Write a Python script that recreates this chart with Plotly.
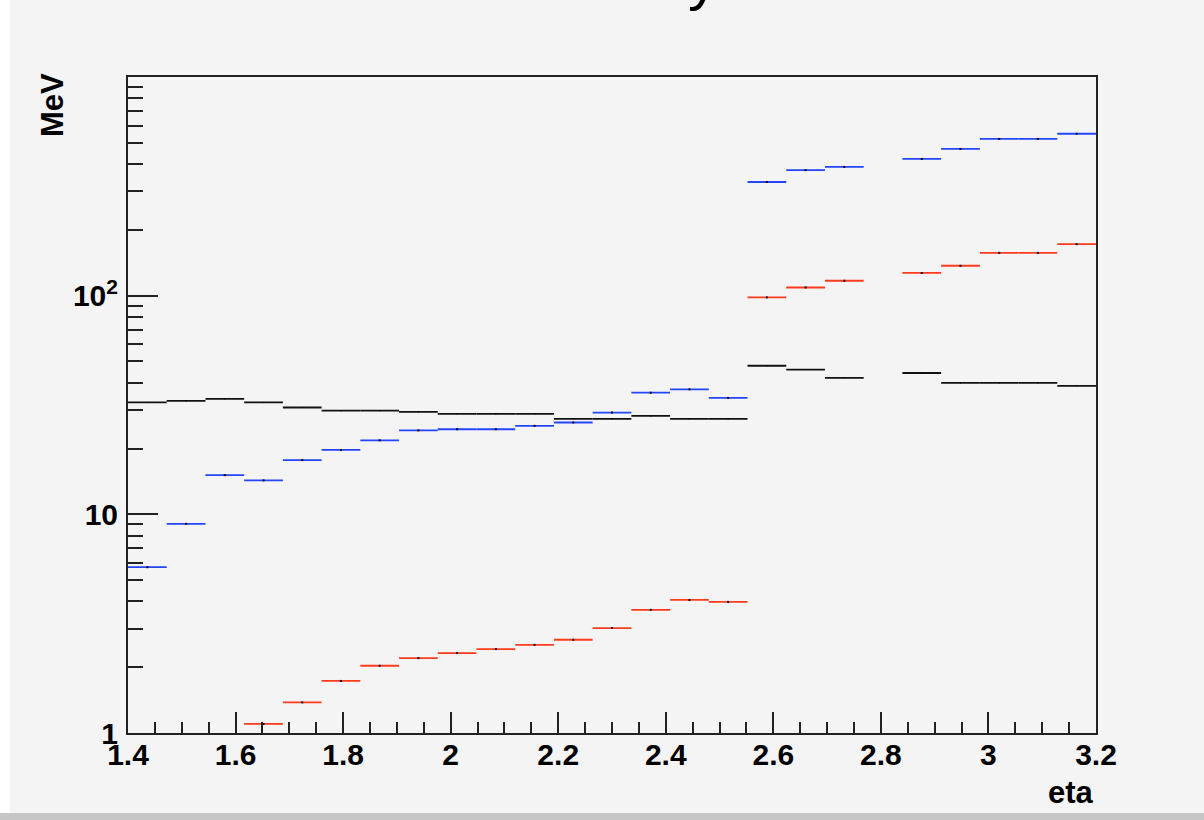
import plotly.graph_objects as go

# ---- data -------------------------------------------------------------
eta_edges = [1.400, 1.472, 1.544, 1.616, 1.688, 1.760, 1.832, 1.904, 1.976,
             2.048, 2.120, 2.192, 2.264, 2.336, 2.408, 2.480, 2.552, 2.624,
             2.696, 2.768, 2.840, 2.912, 2.984, 3.056, 3.128, 3.200]

black_vals = [32.5, 33.0, 33.7, 32.5, 30.8, 29.8, 29.8, 29.4, 28.8, 28.8,
              28.8, 27.3, 27.3, 28.2, 27.3, 27.3, 47.8, 45.9, 42.1, None,
              44.3, 39.9, 39.9, 39.9, 38.7]

blue_vals = [5.73, 9.05, 15.1, 14.3, 17.7, 19.7, 21.8, 24.2, 24.5, 24.5,
             25.4, 26.3, 29.2, 36.0, 37.3, 34.1, 331, 375, 388, None,
             422, 469, 521, 521, 550]

red_vals = [None, None, None, 1.10, 1.38, 1.73, 2.03, 2.20, 2.32, 2.42,
            2.53, 2.67, 3.02, 3.66, 4.06, 3.98, 98.2, 109, 117, None,
            127, 137, 157, 157, 172]

x_title = "eta"
y_title = "MeV"
y_tickvals = [1, 10, 100]
y_ticktext = ["1", "10", "10<sup>2</sup>"]
y_minor = [2, 3, 4, 5, 6, 7, 8, 9, 20, 30, 40, 50, 60, 70, 80, 90,
           200, 300, 400, 500, 600, 700, 800, 900]

# ---- derived bin geometry --------------------------------------------
centers = [(a + b) / 2 for a, b in zip(eta_edges[:-1], eta_edges[1:])]
halfw = [(b - a) / 2 for a, b in zip(eta_edges[:-1], eta_edges[1:])]

fig = go.Figure()


def add_hist(vals, color, dot):
    fig.add_trace(go.Scatter(
        x=centers, y=vals, mode="markers",
        marker=dict(size=2 if dot else 1, color="black", symbol="square"),
        error_x=dict(type="data", array=halfw, symmetric=True,
                     color=color, thickness=1.8, width=0),
        showlegend=False, hoverinfo="x+y"))


add_hist(black_vals, "#111111", False)
add_hist(blue_vals, "#2246ff", True)
add_hist(red_vals, "#ff3b1c", True)

BG = "#f4f4f4"
L, R, T, B = 128, 108, 77, 87
W, H = 1204, 820
pw, ph = W - L - R, H - T - B


def px(xp):
    return (xp - L) / pw


def py(yp):
    return (H - B - yp) / ph


FAM = "Liberation Sans, Arial, sans-serif"
tickfont = dict(family=FAM, size=30, color="black", weight="bold")
titlefont = dict(family=FAM, size=31, color="black", weight="bold")

fig.update_layout(
    width=W, height=H,
    margin=dict(l=L, r=R, t=T, b=B, pad=0),
    paper_bgcolor=BG, plot_bgcolor=BG,
    showlegend=False,
    xaxis=dict(
        range=[1.4, 3.2], tick0=1.4, dtick=0.2, ticks="inside",
        ticklen=21, tickwidth=1.8, tickcolor="#222",
        minor=dict(dtick=0.05, ticks="inside", ticklen=11, tickwidth=1.8,
                   tickcolor="#222", showgrid=False),
        showline=True, linecolor="#222", linewidth=2, mirror=True,
        showgrid=False, zeroline=False, tickfont=tickfont,
        ticklabelstandoff=-6),
    yaxis=dict(
        type="log", range=[0, 3], tickvals=y_tickvals, ticktext=y_ticktext,
        ticks="inside", ticklen=30, tickwidth=1.8, tickcolor="#222",
        minor=dict(tickvals=y_minor, ticks="inside", ticklen=15,
                   tickwidth=1.8, tickcolor="#222", showgrid=False),
        showline=True, linecolor="#222", linewidth=2, mirror=True,
        showgrid=False, zeroline=False, tickfont=tickfont,
        ticklabelstandoff=2),
    annotations=[
        dict(text=y_title, xref="paper", yref="paper", x=px(52), y=py(71),
             xanchor="center", yanchor="top", textangle=-90, showarrow=False,
             font=titlefont),
        dict(text=x_title, xref="paper", yref="paper", x=1.0, y=py(792),
             xanchor="right", yanchor="middle", showarrow=False,
             font=titlefont),
        dict(text="y", xref="paper", yref="paper", x=px(703), y=py(14),
             xanchor="center", yanchor="bottom", showarrow=False,
             font=dict(family=FAM, size=60, color="black")),
    ],
    shapes=[
        dict(type="rect", xref="paper", yref="paper", x0=px(0), x1=px(10),
             y0=py(813), y1=py(0), fillcolor="white", line=dict(width=0),
             layer="below"),
        dict(type="rect", xref="paper", yref="paper", x0=px(0), x1=px(W),
             y0=py(H), y1=py(813), fillcolor="#c6c6c6", line=dict(width=0),
             layer="above"),
    ],
)

fig.write_html(
    "out.html",
    config={"displayModeBar": False},
    post_script="document.body.style.margin='0px';"
                "document.body.style.padding='0px';"
                "document.body.style.overflow='hidden';")
